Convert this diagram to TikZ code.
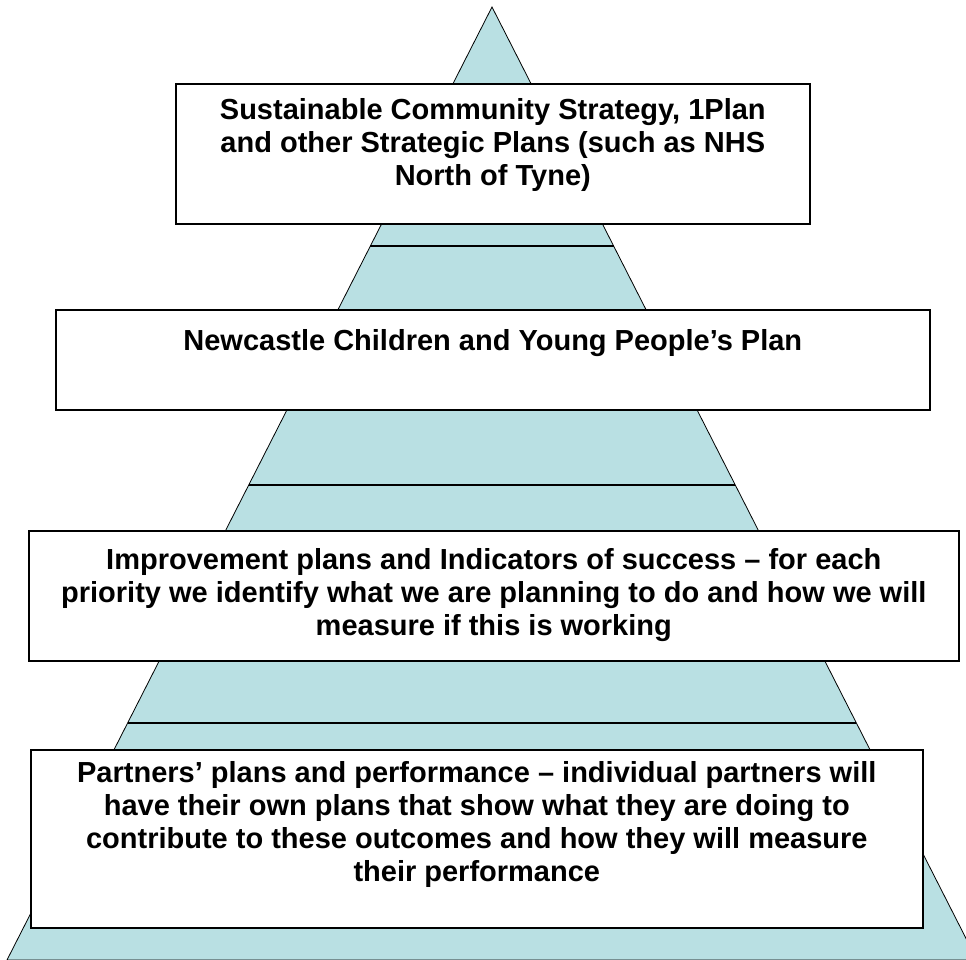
\documentclass[tikz,border=0pt]{standalone}
\usepackage{fontspec}
\setmainfont{Liberation Sans}
\usetikzlibrary{calc,positioning}
\definecolor{pyramid}{RGB}{185,224,227}

\begin{document}
\begin{tikzpicture}[
  x=1pt, y=-1pt,
  box/.style={draw, line width=1.6pt, fill=white, inner sep=0pt, anchor=north west},
  txt/.style={align=center, inner sep=0pt, anchor=north, font=\bfseries\fontsize{29}{33}\selectfont},
  tier/.style={line width=1.3pt}
]
\useasboundingbox (0,0) rectangle (966,960);
\clip (0,0) rectangle (966,960);
\coordinate (apex) at (492,7);
\coordinate (bl) at (7,960);
\coordinate (br) at (977,960);
\filldraw[fill=pyramid, draw=black, line width=0.8pt] (apex) -- (br) -- (bl) -- cycle;
\foreach \t in {0.2508,0.5016,0.7513}
  \draw[tier] ($(apex)!\t!(bl)$) -- ($(apex)!\t!(br)$);

\node[box, minimum width=634pt, minimum height=140pt] (csp) at (175,83) {};
\node[txt, below=15.5pt of csp.north] (csptext) {Sustainable Community Strategy, 1Plan\\and other Strategic Plans (such as NHS\\North of Tyne)};

\node[box, minimum width=874pt, minimum height=100pt] (cyp) at (55,309) {};
\node[txt, below=20.5pt of cyp.north] (cyptext) {Newcastle Children and Young People’s Plan};

\node[box, minimum width=930pt, minimum height=130pt] (imp) at (28,530) {};
\node[txt, below=18.5pt of imp.north] (imptext) {Improvement plans and Indicators of success – for each\\priority we identify what we are planning to do and how we will\\measure if this is working};

\node[box, minimum width=892pt, minimum height=178pt] (ptn) at (30,749) {};
\node[txt, below=12.5pt of ptn.north] (ptntext) {Partners’ plans and performance – individual partners will\\have their own plans that show what they are doing to\\contribute to these outcomes and how they will measure\\their performance};
\end{tikzpicture}
\end{document}
